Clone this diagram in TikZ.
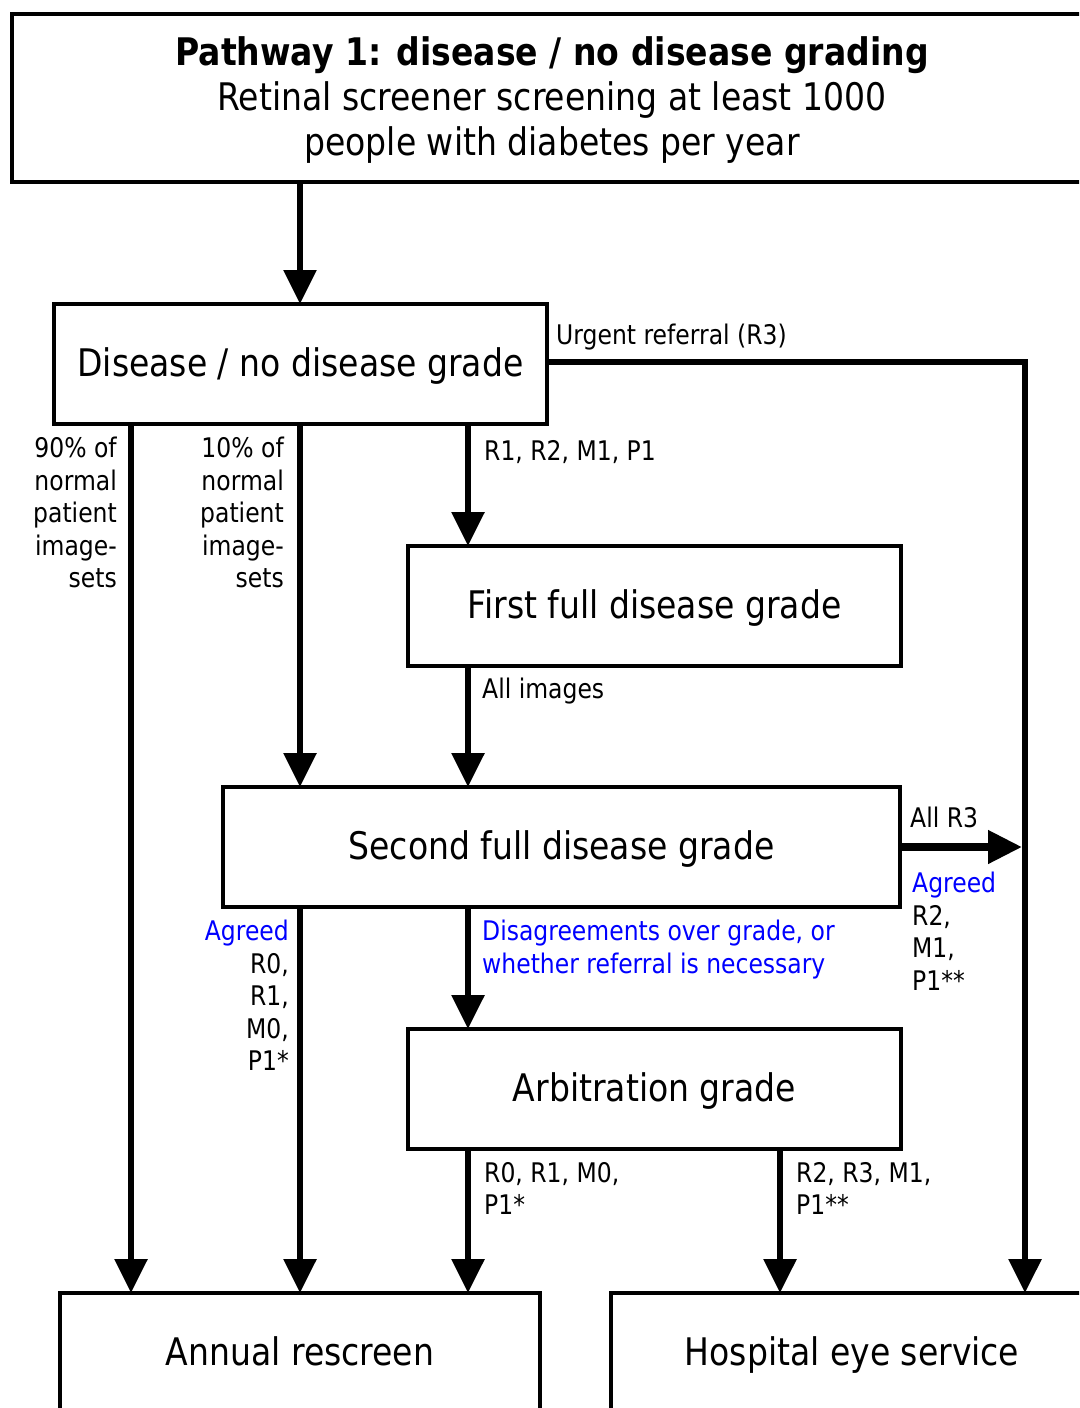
\documentclass[tikz,border=0pt]{standalone}
\usepackage{fontspec}
\setmainfont{DejaVu Sans}[FakeStretch=0.87]
\usetikzlibrary{arrows.meta}
\definecolor{agblue}{RGB}{0,0,255}
\begin{document}
\begin{tikzpicture}[x=1pt,y=-1pt,
  box/.style={draw, line width=3.5pt, inner sep=0pt, outer sep=0pt, font=\fontsize{38}{45}\selectfont, align=center, anchor=north west},
  onebox/.style={box, text height=32pt, text depth=8pt},
  arr/.style={line width=6pt, -{Triangle[length=34pt,width=32pt]}},
  lbl/.style={inner sep=0pt, font=\fontsize{27}{32.5}\selectfont},
]
\useasboundingbox (0,0) rectangle (1079,1408);
\clip (0,0) rectangle (1079,1408);
\fill[white] (0,0) rectangle (1079,1408);

% boxes
\node[box, line width=4pt, minimum width=1080pt, minimum height=168pt] (top) at (12,14)
  {\rule{0pt}{33pt}\textbf{Pathway 1: disease / no disease grading}\\Retinal screener screening at least 1000\\people with diabetes per year};
\node[onebox, minimum width=493pt, minimum height=120pt] (dng) at (54,304) {Disease / no disease grade};
\node[onebox, minimum width=493pt, minimum height=120pt] (first) at (408,546) {First full disease grade};
\node[onebox, minimum width=677pt, minimum height=120pt] (second) at (223,787) {Second full disease grade};
\node[onebox, minimum width=493pt, minimum height=120pt] (arb) at (408,1029) {Arbitration grade};
\node[onebox, minimum width=480pt, minimum height=120pt] (annual) at (60,1293) {Annual rescreen};
\node[onebox, minimum width=482pt, minimum height=120pt] (hosp) at (611,1293) {Hospital eye service};

% column coordinates
\coordinate (c131) at (131,0);
\coordinate (c300) at (300,0);
\coordinate (c468) at (468,0);
\coordinate (c780) at (780,0);
\coordinate (c1025) at (1025,0);
\coordinate (r3end) at (1022,847);
\coordinate (urgs) at ([yshift=2pt]dng.east);

% connectors
\draw[arr] (c300 |- top.south) -- (c300 |- dng.north);
\draw[arr] (urgs) -- (c1025 |- urgs) -- (c1025 |- hosp.north);
\draw[arr] (c131 |- dng.south) -- (c131 |- annual.north);
\draw[arr] (c300 |- dng.south) -- (c300 |- second.north);
\draw[arr] (c468 |- dng.south) -- (c468 |- first.north);
\draw[arr] (c468 |- first.south) -- (c468 |- second.north);
\draw[arr, line width=7.5pt] (second.east) -- (r3end |- second.east);
\draw[arr] (c300 |- second.south) -- (c300 |- annual.north);
\draw[arr] (c468 |- second.south) -- (c468 |- arb.north);
\draw[arr] (c468 |- arb.south) -- (c468 |- annual.north);
\draw[arr] (c780 |- arb.south) -- (c780 |- hosp.north);

% labels
\node[lbl, anchor=north west] (lurg) at (556,324) {Urgent referral (R3)};
\node[lbl, anchor=north east, align=right] (l90) at (117,437) {90\% of\\normal\\patient\\image-\\sets};
\node[lbl, anchor=north east, align=right] (l10) at (284,437) {10\% of\\normal\\patient\\image-\\sets};
\node[lbl, anchor=north west] (lr1) at (484,440) {R1, R2, M1, P1};
\node[lbl, anchor=north west] (lall) at (482,678) {All images};
\node[lbl, anchor=north west] (lr3) at (910,807) {All R3};
\node[lbl, anchor=north west, align=left] (lagr) at (912,872) {\textcolor{agblue}{Agreed}\\R2,\\M1,\\P1**};
\node[lbl, anchor=north east, align=right] (lagl) at (289,920) {\textcolor{agblue}{Agreed}\\R0,\\R1,\\M0,\\P1*};
\node[lbl, anchor=north west, align=left, text=agblue] (ldis) at (482,920) {Disagreements over grade, or\\whether referral is necessary};
\node[lbl, anchor=north west, align=left] (larb1) at (484,1162) {R0, R1, M0,\\P1*};
\node[lbl, anchor=north west, align=left] (larb2) at (796,1162) {R2, R3, M1,\\P1**};
\end{tikzpicture}
\end{document}
